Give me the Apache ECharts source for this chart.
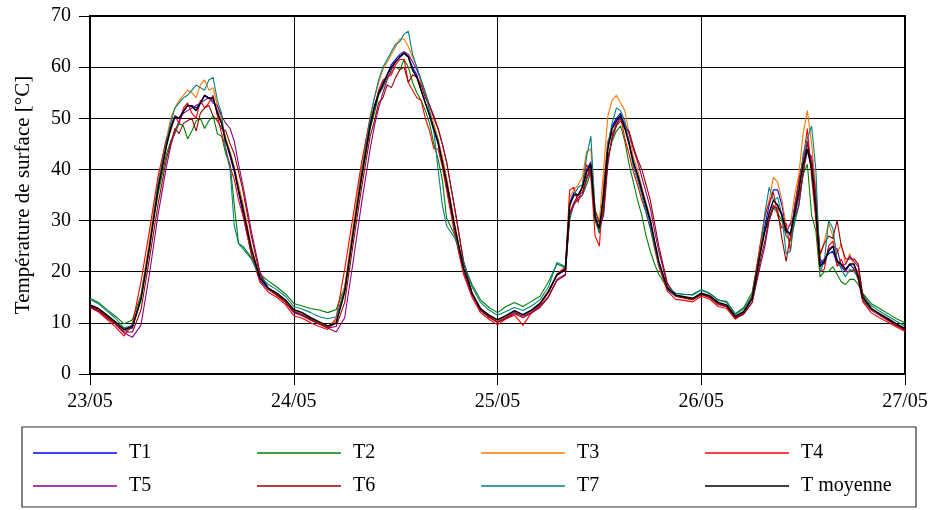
<!DOCTYPE html>
<html>
<head>
<meta charset="utf-8">
<script src="https://cdn.jsdelivr.net/npm/echarts@6/dist/echarts.min.js"></script>
<style>
html, body { margin: 0; padding: 0; background: #fff; }
#chart { width: 932px; height: 510px; }
</style>
</head>
<body>
<div id="chart"></div>
<script>
// relevé horaire : du 23/05 00h au 27/05 00h (heures 0..96)
// + demi-heures en journée (pics bruités)
const dayLabels = ['23/05', '24/05', '25/05', '26/05', '27/05'];
const names = ['T1', 'T2', 'T3', 'T4', 'T5', 'T6', 'T7', 'T moyenne'];
const colors = ['#0000ff', '#008000', '#ff7700', '#ff0000', '#880088', '#990000', '#008080', '#000000'];

const halfHours = [9.5,10.5,11.5,12.5,13.5,14.5,15.5,16.5,17.5,
  33.5,34.5,35.5,36.5,37.5,38.5,39.5,40.5,41.5,
  56.5,57.5,58.5,59.5,60.5,61.5,62.5,63.5,64.5,65.5,66.5,
  79.5,80.5,81.5,82.5,83.5,84.5,85.5,86.5,87.5,88.5,89.5,90.5];

const T1 = [13.3,12.6,11.2,10.0,8.4,9.0,14.8,25.0,36.5,45.0,50.5,51.5,52.5,53.0,54.0,51.5,45.5,39.5,31.5,23.5,18.3,16.5,15.5,14.2,12.3,
  11.7,10.7,9.9,9.1,9.9,16.5,28.0,39.0,49.0,55.0,58.5,61.5,63.0,60.0,55.5,50.5,45.0,36.5,27.5,20.0,15.4,12.4,11.1,10.2,
  11.0,12.2,11.5,12.3,13.6,16.0,19.3,20.3,35.5,36.5,41.5,28.0,44.5,50.0,48.5,41.0,35.5,29.5,21.5,16.5,15.2,14.9,14.6,15.6,
  15.1,13.8,13.3,11.1,12.0,14.8,24.5,33.0,36.0,28.5,33.0,42.0,41.0,21.5,23.5,21.5,20.0,20.5,14.5,12.5,11.5,10.5,9.5,8.7];
const T1half = [48.5,50.0,52.5,52.0,54.5,53.5,49.0,42.5,35.5, 52.5,57.0,60.5,62.5,62.0,58.5,53.0,47.5,41.0,
  33.5,35.0,40.0,30.5,34.0,48.5,51.0,45.5,38.5,32.5,25.5, 29.0,36.0,33.0,27.0,37.5,45.0,33.5,22.5,24.0,21.0,21.5,18.5];

const T2 = [14.8,14.0,12.6,11.3,9.8,10.6,15.5,25.5,35.0,43.0,47.0,48.5,47.5,50.0,49.5,47.0,43.0,33.0,25.0,22.8,19.5,18.2,17.0,15.7,13.8,
  13.3,12.8,12.5,12.0,12.6,17.0,28.0,38.5,48.0,54.5,58.0,60.0,61.5,57.0,53.5,49.0,42.0,30.5,27.0,21.5,17.5,14.5,13.0,12.0,
  13.2,14.0,13.2,14.2,15.2,18.0,21.5,20.8,33.5,35.0,39.5,27.5,42.5,47.5,45.5,37.5,31.0,24.0,19.5,16.8,15.8,15.5,15.6,16.5,
  15.8,14.5,14.0,11.8,13.0,16.0,25.0,30.0,31.5,27.0,29.5,39.0,31.0,19.0,20.0,19.5,17.5,18.5,15.8,13.8,12.8,11.8,10.8,10.0];
const T2half = [45.5,49.0,46.0,49.5,48.0,50.5,46.5,41.0,25.5, 51.0,56.0,59.0,59.5,60.0,55.0,51.5,45.0,38.0,
  30.0,34.0,37.0,30.0,33.0,45.5,48.5,41.0,34.0,27.0,21.5, 28.0,32.5,30.0,26.0,33.0,41.0,28.0,20.0,21.0,18.0,18.5,17.5];

const T3 = [13.6,12.7,11.3,10.0,8.5,9.6,15.0,26.0,37.5,46.0,52.0,54.5,55.0,56.5,55.5,52.5,46.0,40.5,33.5,25.0,18.8,16.7,15.6,14.3,12.5,
  11.8,10.9,10.0,9.2,10.5,17.0,29.0,40.5,50.5,57.0,61.0,64.0,65.5,62.0,57.0,51.5,46.0,38.5,29.0,20.5,15.6,12.6,11.3,10.4,
  11.2,12.3,11.5,12.4,13.8,16.3,19.5,20.6,36.0,38.5,44.0,30.0,50.5,54.5,51.5,42.5,36.5,30.5,22.0,16.7,15.3,15.0,14.7,15.7,
  15.2,13.9,13.4,11.2,12.3,15.0,25.5,34.0,37.5,29.0,35.0,47.0,45.0,23.0,29.5,23.5,21.5,21.0,14.8,12.6,11.6,10.6,9.6,8.7];
const T3half = [50.0,53.5,55.5,54.0,57.5,56.0,49.5,43.5,37.0, 54.0,59.5,62.5,65.5,64.0,60.0,54.5,49.0,42.5,
  34.5,37.0,43.5,32.0,40.0,53.5,53.0,47.0,40.0,33.5,26.0, 30.5,38.5,34.0,29.0,39.0,51.5,36.0,26.0,27.0,25.5,23.5,20.0];

const T4 = [13.0,12.1,10.7,9.2,7.4,9.8,18.0,28.0,38.5,46.0,50.5,52.0,51.0,53.5,53.0,50.5,44.0,38.0,31.0,23.5,18.0,16.0,15.0,13.6,11.4,
  10.9,10.0,9.3,8.7,11.0,20.5,31.0,41.5,50.0,55.5,58.0,60.5,61.5,55.5,53.5,47.5,44.0,36.0,27.0,19.5,15.0,12.0,10.7,9.6,
  10.8,11.5,9.5,12.0,13.4,16.0,19.5,21.0,36.5,37.0,38.5,25.0,45.5,48.5,46.0,39.5,34.0,28.5,21.0,16.2,14.6,14.4,14.1,15.2,
  14.6,13.2,12.8,10.7,11.8,15.5,26.0,33.5,31.0,29.5,32.5,42.0,38.5,20.0,25.0,21.0,20.0,20.5,14.2,12.0,11.0,10.1,9.2,8.3];
const T4half = [47.5,49.0,53.0,50.0,52.0,54.5,47.0,40.5,34.0, 52.0,57.5,58.5,61.5,57.0,54.0,50.0,44.0,40.5,
  36.0,33.5,41.0,27.0,37.0,47.0,50.5,43.0,37.0,31.5,24.5, 31.0,35.5,28.5,24.0,38.0,48.0,30.0,20.5,26.0,22.5,20.0,18.5];

const T5 = [13.2,12.4,11.0,9.7,8.0,7.2,9.5,19.5,31.0,40.5,47.5,51.0,52.0,53.0,54.0,52.5,49.0,45.5,37.0,28.0,20.0,16.8,15.5,14.0,12.0,
  11.4,10.5,9.8,9.0,8.2,11.0,22.0,33.5,44.0,52.0,57.5,61.0,63.0,61.0,57.5,52.5,48.0,41.5,32.0,22.0,15.8,12.6,11.2,10.1,
  11.0,12.0,11.3,12.0,13.2,15.2,18.5,19.5,33.0,35.0,40.0,28.5,41.0,49.0,49.0,44.0,38.5,32.5,24.0,17.5,15.5,15.0,14.7,15.6,
  15.1,13.8,13.2,11.0,11.8,14.0,21.5,30.0,32.5,27.5,30.5,39.5,42.5,22.5,24.5,24.5,21.5,22.0,15.5,12.8,11.7,10.6,9.6,8.6];
const T5half = [44.5,49.5,51.5,52.5,53.5,53.0,50.5,48.0,41.0, 48.5,55.0,59.5,62.0,62.5,59.5,55.0,50.0,45.0,
  31.0,34.5,38.0,31.0,31.0,46.5,50.0,47.0,41.5,35.5,28.0, 25.0,32.5,31.5,29.5,33.0,43.5,35.0,21.5,25.0,21.0,23.0,21.0];

const T6 = [13.1,12.3,11.1,9.8,8.2,8.2,12.5,22.5,33.0,42.0,48.0,49.0,50.0,51.0,52.5,49.5,47.5,43.0,36.0,27.0,19.5,16.6,15.4,14.1,12.2,
  11.5,10.6,9.8,9.0,9.3,14.0,25.5,36.5,46.5,53.0,56.5,58.0,60.0,58.5,56.5,52.5,48.0,41.5,32.0,22.0,15.8,12.5,11.1,10.1,
  10.8,11.8,11.0,11.9,13.0,15.0,18.3,19.3,33.5,35.5,40.5,29.5,42.0,48.5,48.0,44.5,40.0,34.0,25.0,17.8,15.2,14.8,14.5,15.5,
  14.9,13.6,13.1,10.9,11.7,14.0,22.5,30.5,32.0,22.0,31.0,39.0,41.0,23.5,27.0,30.0,22.5,22.5,15.7,12.9,11.6,10.5,9.5,8.6];
const T6half = [45.0,47.0,49.5,47.5,52.0,50.5,48.0,45.0,39.5, 49.5,54.0,56.0,59.5,57.0,58.0,54.0,50.5,45.0,
  31.5,35.0,38.5,32.0,31.5,46.0,49.5,47.5,42.0,37.0,29.5, 26.0,33.0,26.5,27.0,34.5,45.5,34.0,25.5,26.5,25.0,22.5,21.5];

const T7 = [14.6,13.7,12.3,10.9,9.0,9.5,15.0,25.0,37.0,45.5,52.0,54.0,55.5,56.0,57.5,53.5,43.5,29.0,24.5,22.5,19.0,17.5,16.5,15.2,13.2,
  12.7,12.0,11.2,10.8,11.2,16.5,28.0,39.5,50.0,57.5,61.5,64.5,66.5,62.5,57.5,51.5,40.0,29.0,26.5,22.0,17.0,14.0,12.5,11.5,
  12.2,13.0,12.4,13.3,14.5,17.0,21.8,21.0,35.0,37.0,46.5,28.0,45.0,52.0,49.5,40.5,35.0,28.5,21.5,17.0,15.8,15.6,15.4,16.4,
  15.7,14.4,14.2,11.7,12.7,15.3,24.5,36.5,34.5,23.5,30.5,43.0,48.5,20.0,30.0,22.5,19.0,20.0,15.3,13.4,12.3,11.3,10.3,9.4];
const T7half = [49.0,53.0,54.5,56.5,55.5,58.0,51.0,40.0,25.5, 54.0,60.0,63.0,65.0,67.0,60.0,55.0,47.5,33.0,
  33.0,36.5,42.5,31.5,35.0,49.0,51.5,45.0,38.0,31.5,25.0, 31.5,34.0,31.0,24.0,35.5,46.0,40.0,22.0,28.5,20.5,20.5,19.0];

const TM = [13.5,12.8,11.5,10.2,8.7,9.3,14.5,24.6,36.0,44.5,50.2,51.3,52.3,52.9,53.9,51.0,45.5,40.0,32.5,24.5,18.8,16.8,15.8,14.5,12.6,
  12.0,11.0,10.2,9.4,10.0,16.0,27.5,38.6,48.5,54.9,58.5,61.1,62.7,59.4,55.5,50.6,45.4,37.6,28.5,20.7,15.8,12.8,11.5,10.6,
  11.4,12.4,11.6,12.5,13.8,16.1,19.4,20.5,35.0,36.5,41.0,28.5,44.0,49.5,48.0,41.5,36.0,30.0,22.0,16.8,15.4,15.1,14.8,15.8,
  15.3,14.0,13.5,11.3,12.2,14.8,24.0,31.5,33.0,28.0,31.5,41.0,40.0,21.0,24.0,22.0,20.5,21.5,15.0,12.8,11.8,10.8,9.8,8.9];
const TMhalf = [48.0,50.0,52.5,51.5,54.5,54.0,49.0,43.0,36.0, 52.0,56.5,60.0,62.0,62.0,58.0,53.0,48.0,41.5,
  33.0,35.0,39.5,30.5,35.0,48.0,50.5,45.0,39.0,33.0,26.0, 28.0,34.0,31.0,27.5,36.0,44.0,32.0,22.0,25.0,21.5,21.5,19.0];

const hourly = [T1, T2, T3, T4, T5, T6, T7, TM];
const halves = [T1half, T2half, T3half, T4half, T5half, T6half, T7half, TMhalf];
const font = 'Liberation Serif';

// fusion heures pleines + demi-heures, triées par temps
function buildData(vals, half) {
  const pts = vals.map((v, h) => [h, v]);
  half.forEach((v, k) => pts.push([halfHours[k], v]));
  return pts.sort((a, b) => a[0] - b[0]);
}

const chart = echarts.init(document.getElementById('chart'));

// légende : 4 colonnes x 2 lignes dans un cadre
const legendCols = [33, 257, 481, 705];
const legendRows = [443, 476];
const legends = names.map((n, i) => ({
  data: [n],
  left: legendCols[i % 4],
  top: legendRows[Math.floor(i / 4)],
  padding: 0,
  icon: 'rect',
  itemWidth: 84,
  itemHeight: 1.5,
  selectedMode: false,
  textStyle: { fontFamily: font, fontSize: 20, color: '#000', padding: [0, 0, 0, 7] }
}));

const option = {
  animation: false,
  backgroundColor: '#fff',
  color: colors,
  grid: { left: 90, right: 27, top: 16, bottom: 136, show: true, borderColor: '#000', borderWidth: 2 },
  legend: legends,
  graphic: [{
    type: 'rect',
    shape: { x: 22, y: 427, width: 894, height: 80 },
    style: { fill: 'none', stroke: '#333', lineWidth: 1.2 },
    silent: true
  }],
  xAxis: {
    type: 'value',
    min: 0,
    max: 96,
    interval: 24,
    axisLine: { show: true, lineStyle: { color: '#000', width: 2 } },
    axisTick: { show: true, inside: false, length: 11, lineStyle: { color: '#000', width: 1 } },
    axisLabel: {
      fontFamily: font, fontSize: 20, color: '#000', margin: 18,
      formatter: v => dayLabels[v / 24]
    },
    splitLine: { show: true, lineStyle: { color: '#000', width: 1 } }
  },
  yAxis: {
    type: 'value',
    min: 0,
    max: 70,
    interval: 10,
    name: 'Température de surface [°C]',
    nameLocation: 'middle',
    nameRotate: 90,
    nameGap: 56,
    nameTextStyle: { fontFamily: font, fontSize: 21, color: '#000' },
    axisLine: { show: true, lineStyle: { color: '#000', width: 2 } },
    axisTick: { show: true, inside: false, length: 11, lineStyle: { color: '#000', width: 1 } },
    axisLabel: { fontFamily: font, fontSize: 20, color: '#000', margin: 19 },
    splitLine: { show: true, lineStyle: { color: '#000', width: 1 } }
  },
  series: hourly.map((vals, i) => ({
    name: names[i],
    type: 'line',
    data: buildData(vals, halves[i]),
    showSymbol: false,
    symbol: 'none',
    lineStyle: { width: i === 7 ? 1.5 : 1.1, color: colors[i] },
    z: i === 7 ? 5 : 2
  }))
};
chart.setOption(option);
</script>
</body>
</html>
